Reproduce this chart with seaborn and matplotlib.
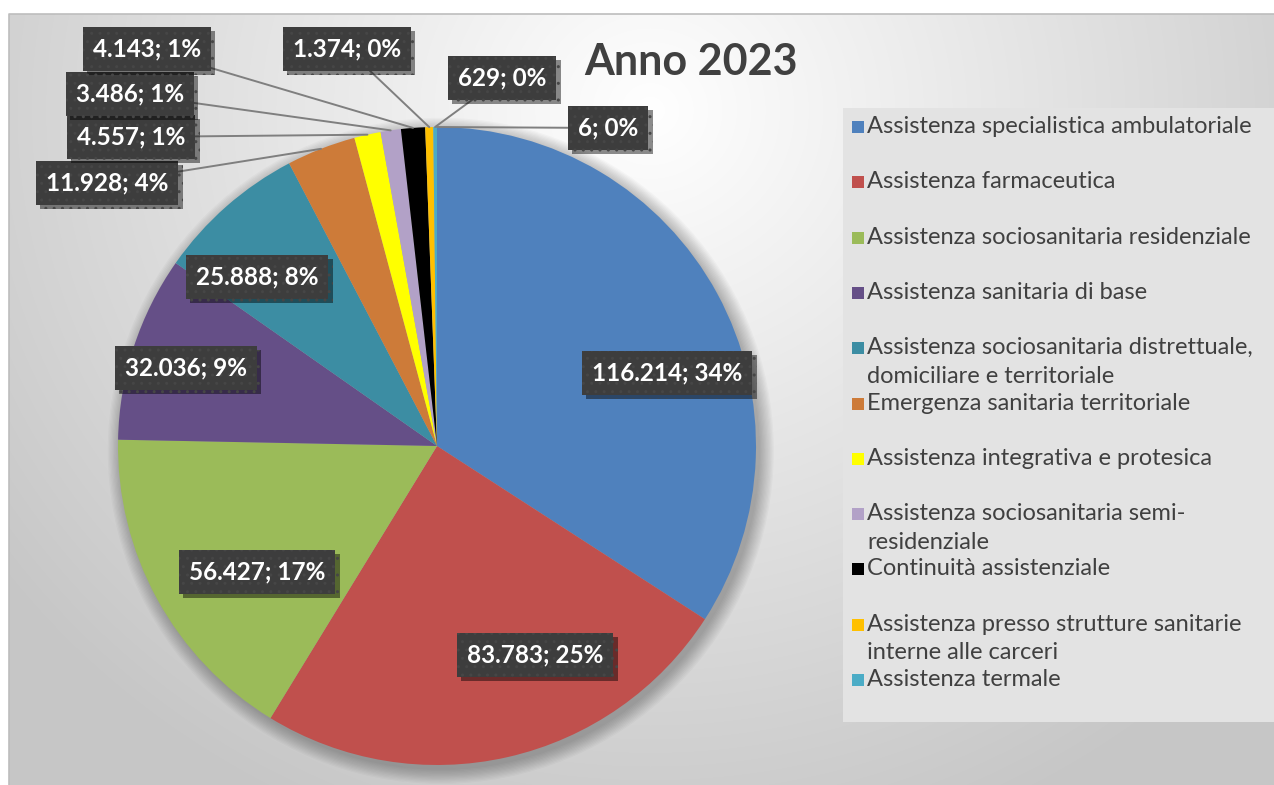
import numpy as np
import matplotlib
matplotlib.use("Agg")
import matplotlib.pyplot as plt
import matplotlib.patheffects as pe
from matplotlib.patches import Rectangle, Circle
import seaborn as sns

#%% data
categorie = [
    "Assistenza specialistica ambulatoriale",
    "Assistenza farmaceutica",
    "Assistenza sociosanitaria residenziale",
    "Assistenza sanitaria di base",
    "Assistenza sociosanitaria distrettuale,\ndomiciliare e territoriale",
    "Emergenza sanitaria territoriale",
    "Assistenza integrativa e protesica",
    "Assistenza sociosanitaria semi-\nresidenziale",
    "Continuità assistenziale",
    "Assistenza presso strutture sanitarie\ninterne alle carceri",
    "Assistenza termale",
    "",  # voce non visibile in legenda
]
valori = [116214, 83783, 56427, 32036, 25888, 11928, 4557, 3486, 4143, 1374, 629, 6]
colori = ["#4F81BD", "#C0504D", "#9BBB59", "#654F87", "#3C8DA3", "#CD7B39",
          "#FFFF00", "#B2A1C7", "#000000", "#FFC000", "#4BACC6", "#7F7F7F"]
titolo = "Anno 2023"

#%% layout (pixel -> unita' del raggio)
W, H = 1274, 785
CX, CY, R = 437, 446, 319
# centri delle etichette in pixel
pos_etichette_px = [(667, 373), (535, 655), (257, 572), (186, 368), (257, 277),
                    (107, 183), (131, 137), (130, 94), (147, 49),
                    (347, 49), (502, 78), (608, 128)]
esterne = [5, 6, 7, 8, 9, 10, 11]

def to_data(p):
    return ((p[0] - CX) / R, (CY - p[1]) / R)

sns.set_style("white")
plt.rcParams['font.family'] = ['Lato', 'DejaVu Sans']

fig = plt.figure(figsize=(W / 100, H / 100), dpi=100)
fig.patch.set_facecolor("white")

#%% sfondo con gradiente radiale
bg = fig.add_axes([0, 0, 1, 1], zorder=0)
bg.set_xlim(0, W)
bg.set_ylim(H, 0)
bg.axis("off")
yy, xx = np.mgrid[14:H, 9:W]
d = np.sqrt(((xx - 650) / 1.0) ** 2 + ((yy - 110) / 0.95) ** 2) / 820
d = np.clip(d, 0, 1)
g = (255 - 57 * d) / 255
bg.imshow(np.dstack([g, g, g]), extent=(9, W, H, 14), aspect="auto", zorder=0)
bg.plot([9, 9, W], [H, 14, 14], color="#bdbdbd", lw=1.2, zorder=1)

# legenda
bg.add_patch(Rectangle((843, 108), W - 843, 614, fc="#e3e3e3", ec="none", zorder=2))
for i, nome in enumerate(categorie[:11]):
    y = 127 + i * 55.3
    bg.add_patch(Rectangle((852, y - 6), 12, 12, fc=colori[i], ec="none", zorder=3))
    bg.text(867, y - 11, nome, fontsize=17, color="#404040", va="top", ha="left",
            linespacing=1.45, zorder=3)

#%% torta
ax = fig.add_axes([0, 0, 1, 1], zorder=1)
ax.patch.set_alpha(0)

# ombra morbida
for k in range(12):
    ax.add_patch(Circle((0.012, -0.015), 1.0 + 0.004 * k, fc="black", alpha=0.022, lw=0))

palette = sns.color_palette(colori)
wedges, _ = ax.pie(valori, colors=palette, startangle=90, counterclock=False,
                   radius=1, wedgeprops=dict(linewidth=0))

ax.set_xlim(-CX / R, (W - CX) / R)
ax.set_ylim(-(H - CY) / R, CY / R)
ax.set_aspect("auto")
ax.axis("off")

totale = sum(valori)
for i, (w, v) in enumerate(zip(wedges, valori)):
    testo = f"{v:,}".replace(",", ".") + f"; {round(100 * v / totale)}%"
    xt, yt = to_data(pos_etichette_px[i])
    box = dict(boxstyle="square,pad=0.42", fc="#3d3d3d", ec="#464646", lw=0, hatch="..")
    if i in esterne:
        ang = np.deg2rad((w.theta1 + w.theta2) / 2)
        t = ax.annotate(testo, xy=(np.cos(ang), np.sin(ang)), xytext=(xt, yt),
                        ha="center", va="center", fontsize=17.5, fontweight="bold",
                        color="white", bbox=box,
                        arrowprops=dict(arrowstyle="-", color="#7f7f7f", lw=1.4,
                                        shrinkA=0, shrinkB=0))
    else:
        t = ax.text(xt, yt, testo, ha="center", va="center", fontsize=17.5,
                    fontweight="bold", color="white", bbox=box)
    t.get_bbox_patch().set_path_effects([
        pe.SimplePatchShadow(offset=(3, -3), shadow_rgbFace="black", alpha=0.45),
        pe.Normal()])

fig.text(691 / W, 1 - 62 / H, titolo, fontsize=31, fontweight="bold",
         color="#404040", ha="center", va="center")

fig.savefig("out.png", dpi=100)
